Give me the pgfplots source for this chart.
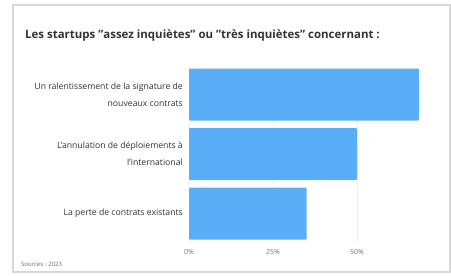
\documentclass[border=0pt]{standalone}
\usepackage{pgfplots}
\pgfplotsset{compat=1.18}
\usepackage{fontspec}
\setmainfont{Open Sans}
\definecolor{barblue}{RGB}{90,174,248}
\definecolor{framegray}{RGB}{215,215,215}
\begin{document}
\begin{tikzpicture}[x=1bp,y=1bp]
\useasboundingbox (0,0) rectangle (451,-275);
\fill[white] (0,0) rectangle (451,-275);
\draw[framegray, line width=2bp] (13,-5) rectangle (449.5,-272);
\node[anchor=west, inner sep=0pt, font=\fontsize{11.5}{12}\selectfont\bfseries, text=black!80] at (25,-35) {Les startups "assez inquiètes" ou "très inquiètes" concernant :};
\node[anchor=west, inner sep=0pt, font=\fontsize{6}{7}\selectfont, text=black!60] at (21,-264) {Sources : 2023};
\begin{axis}[
  at={(189bp,-243.25bp)}, anchor=south west,
  scale only axis,
  width=235.2bp, height=178.5bp,
  xmin=0, xmax=70,
  ymin=-0.5, ymax=2.5,
  y dir=reverse,
  xbar, bar width=52bp, bar shift=0pt,
  axis line style={draw=none},
  major tick length=0pt,
  xtick={0,25,50},
  xticklabels={0\%,25\%,50\%},
  xmajorgrids, grid style={black!6, line width=0.5bp},
  ytick={0,1,2},
  yticklabels={{Un ralentissement de la signature de\\nouveaux contrats},{L'annulation de déploiements à\\l'international},{La perte de contrats existants}},
  yticklabel style={align=right, font=\fontsize{8.7}{17}\selectfont, text=black!80, inner sep=0pt, xshift=-6bp},
  xticklabel style={font=\fontsize{7}{8}\selectfont, text=black!55, inner sep=0pt, yshift=-6bp},
  /pgf/number format/assume math mode=true,
  clip=false,
]
\addplot[fill=barblue, draw=none, rounded corners=1bp] coordinates {(68.5,0) (50,1) (35,2)};
\end{axis}
\end{tikzpicture}
\end{document}
